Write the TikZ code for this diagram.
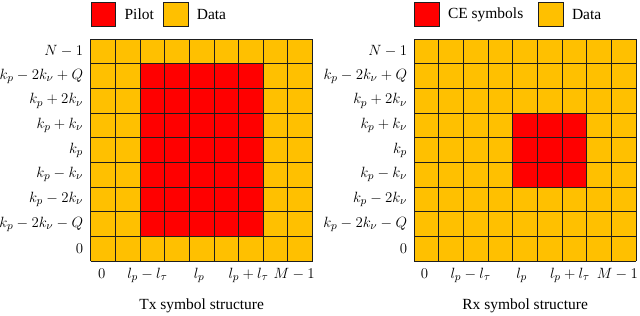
\documentclass[tikz,border=0pt]{standalone}
\usepackage{fontspec}
\setmainfont{Liberation Serif}
\usepackage{tikz}
\usetikzlibrary{positioning}
\definecolor{pilotred}{RGB}{255,0,0}
\definecolor{datagold}{RGB}{255,192,0}
\definecolor{gridgray}{RGB}{30,30,30}

\tikzset{
  gridline/.style={draw=gridgray, line width=0.75pt, step=1},
  keybox/.style={draw=gridgray, line width=0.75pt, minimum size=0.7cm, inner sep=0pt, anchor=south west},
  keytext/.style={inner sep=0pt, right=6.5pt of #1},
  rowlab/.style={anchor=east, inner sep=0pt},
  collab/.style={anchor=base, inner sep=0pt}
}

\begin{document}
\begin{tikzpicture}[x=0.7cm, y=0.7cm, font=\fontsize{12.5}{15}\selectfont]
  \useasboundingbox (-3.68,-2.19) rectangle (22.28,10.59);

  % Tx grid
  \fill[datagold] (0,0) rectangle (9,9);
  \fill[pilotred] (2,1) rectangle (7,8);
  \draw[gridline] (0,0) grid (9,9);

  \node[keybox, fill=pilotred] (txpilot) at (0,9.49) {};
  \node[keytext=txpilot] (txpilottext) {Pilot};
  \node[keybox, fill=datagold] (txdata) at (2.93,9.49) {};
  \node[keytext=txdata] (txdatatext) {Data};

  \foreach \lab [count=\i from 0] in {0, k_p-2k_\nu-Q, k_p-2k_\nu, k_p-k_\nu, k_p, k_p+k_\nu, k_p+2k_\nu, k_p-2k_\nu+Q, N-1}
    \node[rowlab] (txrow\i) at (-0.3,\i+0.5) {$\lab$};
  \foreach \x/\lab [count=\i] in {0.45/0, 2.3/l_p-l_\tau, 4.4/l_p, 6.4/l_p+l_\tau, 8.25/M-1}
    \node[collab] (txcol\i) at (\x,-0.69) {$\lab$};
  \node[anchor=base] (txcaption) at (4.5,-1.95) {Tx symbol structure};

  % Rx grid
  \begin{scope}[xshift=13.12*0.7cm]
    \fill[datagold] (0,0) rectangle (9,9);
    \fill[pilotred] (4,3) rectangle (7,6);
    \draw[gridline] (0,0) grid (9,9);

    \node[keybox, fill=pilotred] (rxce) at (0,9.49) {};
    \node[keytext=rxce] (rxcetext) {CE symbols};
    \node[keybox, fill=datagold] (rxdata) at (5.03,9.49) {};
    \node[keytext=rxdata] (rxdatatext) {Data};

    \foreach \lab [count=\i from 0] in {0, k_p-2k_\nu-Q, k_p-2k_\nu, k_p-k_\nu, k_p, k_p+k_\nu, k_p+2k_\nu, k_p-2k_\nu+Q, N-1}
      \node[rowlab] (rxrow\i) at (-0.28,\i+0.5) {$\lab$};
    \foreach \x/\lab [count=\i] in {0.42/0, 2.29/l_p-l_\tau, 4.36/l_p, 6.32/l_p+l_\tau, 8.24/M-1}
      \node[collab] (rxcol\i) at (\x,-0.69) {$\lab$};
    \node[anchor=base] (rxcaption) at (4.5,-1.95) {Rx symbol structure};
  \end{scope}
\end{tikzpicture}
\end{document}
